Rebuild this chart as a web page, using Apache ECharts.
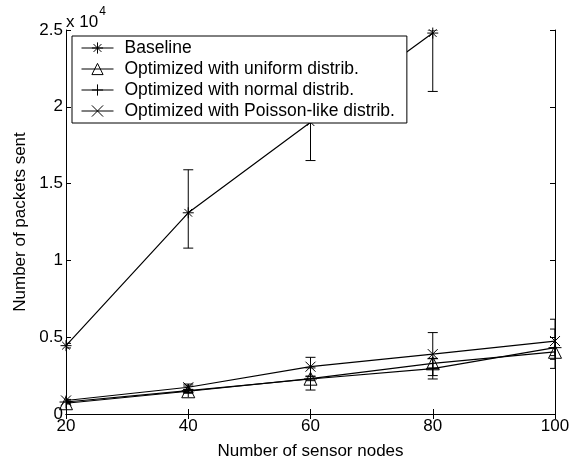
<!DOCTYPE html>
<html>
<head>
<meta charset="UTF-8">
<script src="https://cdn.jsdelivr.net/npm/echarts@6/dist/echarts.min.js"></script>
</head>
<body style="margin:0;background:#fff">
<div id="main" style="width:579px;height:462px;"></div>
<script>
// x positions (number of sensor nodes)
var nodes = [20, 40, 60, 80, 100];

// mean packets sent
var baseline = [4450, 13100, 19000, 24800];
var uniform = [700, 1480, 2300, 3300, 4050];
var normal = [780, 1520, 2280, 2950, 4320];
var poisson = [880, 1740, 3080, 3900, 4750];

// error bar ranges (low / high)
var baselineLow = [4300, 10800, 16500, 21000];
var baselineHigh = [4600, 15900, 21500, 25000];
var uniformLow = [650, 1400, 2170, 3000, 3800];
var uniformHigh = [750, 1600, 2430, 3600, 4300];
var normalLow = [720, 1350, 1560, 2280, 2970];
var normalHigh = [840, 1820, 3000, 3620, 5530];
var poissonLow = [800, 1600, 2470, 2500, 3560];
var poissonHigh = [950, 1950, 3690, 5300, 6170];

var legendNames = ['Baseline', 'Optimized with uniform distrib.', 'Optimized with normal distrib.', 'Optimized with Poisson-like distrib.'];

var symStar = 'path://M0,-10L0,10M-10,0L10,0M-7,-7L7,7M-7,7L7,-7';
var symTri = 'path://M0,-10L10,8L-10,8Z';
var symPlus = 'path://M0,-10L0,10M-10,0L10,0';
var symCross = 'path://M-10,-10L10,10M-10,10L10,-10';

var font = 'Liberation Sans';

function pairs(vals) {
    return vals.map(function (v, i) { return [nodes[i], v]; });
}

function lineSeries(name, vals, symbol, size) {
    return {
        name: name,
        type: 'line',
        data: pairs(vals),
        symbol: symbol,
        symbolSize: size,
        showAllSymbol: true,
        lineStyle: { color: '#000', width: 1.2 },
        itemStyle: { color: 'none', borderColor: '#000', borderWidth: 1 },
        emphasis: { disabled: true },
        z: 3
    };
}

function errorSeries(lows, highs) {
    return {
        type: 'custom',
        data: lows.map(function (l, i) { return [nodes[i], l, highs[i]]; }),
        encode: { x: 0, y: [1, 2] },
        clip: true,
        z: 2,
        renderItem: function (params, api) {
            var x = api.value(0);
            var lo = api.coord([x, api.value(1)]);
            var hi = api.coord([x, api.value(2)]);
            var w = 5;
            var st = { stroke: '#000', lineWidth: 1 };
            return {
                type: 'group',
                children: [
                    { type: 'line', shape: { x1: lo[0], y1: lo[1], x2: hi[0], y2: hi[1] }, style: st },
                    { type: 'line', shape: { x1: lo[0] - w, y1: lo[1], x2: lo[0] + w, y2: lo[1] }, style: st },
                    { type: 'line', shape: { x1: hi[0] - w, y1: hi[1], x2: hi[0] + w, y2: hi[1] }, style: st }
                ]
            };
        }
    };
}

var axisCommon = {
    axisLine: { lineStyle: { color: '#000', width: 1 } },
    axisTick: { inside: true, length: 5, lineStyle: { color: '#000' } },
    splitLine: { show: false }
};

var myChart = echarts.init(document.getElementById('main'));
var option = {
    backgroundColor: '#fff',
    animation: false,
    textStyle: { fontFamily: font },
    grid: { left: 66, right: 24, top: 30, bottom: 48, containLabel: false, outerBoundsMode: 'none' },
    xAxis: [
        Object.assign({
            type: 'value', min: 20, max: 100, interval: 20,
            name: 'Number of sensor nodes', nameLocation: 'middle', nameGap: 29,
            nameTextStyle: { fontSize: 17, color: '#000', fontFamily: font },
            axisLabel: { fontSize: 17, color: '#000', margin: 4, fontFamily: font }
        }, axisCommon),
        Object.assign({
            type: 'value', min: 20, max: 100, interval: 20, position: 'top',
            axisLabel: { show: false }
        }, axisCommon)
    ],
    yAxis: [
        Object.assign({
            type: 'value', min: 0, max: 25000, interval: 5000,
            name: 'Number of packets sent', nameLocation: 'middle', nameGap: 35,
            nameTextStyle: { fontSize: 17, color: '#000', fontFamily: font },
            axisLabel: {
                fontSize: 17, color: '#000', margin: 3, fontFamily: font,
                formatter: function (v) { return String(v / 10000); }
            }
        }, axisCommon),
        Object.assign({
            type: 'value', min: 0, max: 25000, interval: 5000, position: 'right',
            axisLabel: { show: false }
        }, axisCommon)
    ],
    legend: {
        data: legendNames,
        orient: 'vertical',
        left: 72,
        top: 36,
        padding: [3, 12, 3, 9],
        itemGap: 3,
        itemWidth: 32,
        itemHeight: 14,
        backgroundColor: '#fff',
        borderColor: '#000',
        borderWidth: 1,
        borderRadius: 0,
        selectedMode: false,
        lineStyle: { width: 1 },
        itemStyle: { borderWidth: 1 },
        textStyle: { fontSize: 17.5, lineHeight: 17, color: '#000', fontFamily: font, padding: [0, 0, 0, 6] },
        z: 10
    },
    graphic: [{
        type: 'text',
        left: 66,
        top: 6,
        style: {
            text: '{a|x 10}{b|4}',
            rich: {
                a: { fontSize: 17, fontFamily: font, fill: '#000', padding: [8, 0, 0, 0] },
                b: { fontSize: 12, fontFamily: font, fill: '#000', verticalAlign: 'top', padding: [0, 0, 8, 1] }
            }
        }
    }],
    series: [
        errorSeries(baselineLow, baselineHigh),
        errorSeries(uniformLow, uniformHigh),
        errorSeries(normalLow, normalHigh),
        errorSeries(poissonLow, poissonHigh),
        lineSeries(legendNames[0], baseline, symStar, 11),
        lineSeries(legendNames[1], uniform, symTri, 13),
        lineSeries(legendNames[2], normal, symPlus, 13),
        lineSeries(legendNames[3], poisson, symCross, 10)
    ]
};
myChart.setOption(option);
</script>
</body>
</html>
